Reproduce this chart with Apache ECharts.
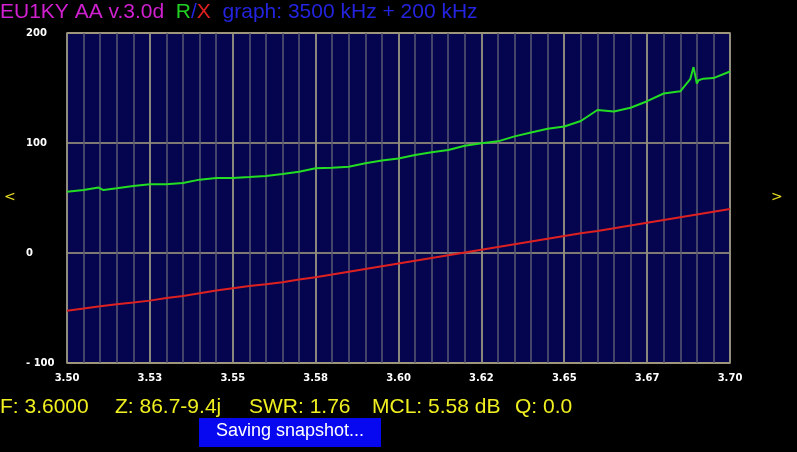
<!DOCTYPE html>
<html>
<head>
<meta charset="utf-8">
<script src="https://cdn.jsdelivr.net/npm/echarts@6/dist/echarts.min.js"></script>
<style>
html,body{margin:0;padding:0;background:#000;}
#chart{width:797px;height:452px;}
</style>
</head>
<body>
<div id="chart"></div>
<script>
// Frequency (MHz) readings
const freqs = [3.500,3.505,3.510,3.515,3.520,3.525,3.530,3.535,3.540,3.545,3.550,3.555,3.560,3.565,3.570,3.575,3.580,3.585,3.590,3.595,3.600,3.605,3.610,3.615,3.620,3.625,3.630,3.635,3.640,3.645,3.650,3.655,3.660,3.665,3.670,3.675,3.680,3.685,3.690,3.695,3.700];
// R (green)
const rValues = [55.7,57.3,58.5,58.8,60.9,62.4,62.4,63.6,66.7,68.2,68.2,69.0,70.0,71.8,73.9,77.0,77.5,78.5,81.5,84.0,86.0,89.0,91.5,93.6,97.5,99.7,101.5,106.0,109.5,113.0,115.0,120.0,130.0,128.7,132.0,138.0,145.0,147.0,154.0,159.0,165.0];
// extra R readings (spike / small bumps)
const rExtraFreqs = [3.5095,3.5110,3.6880,3.6890,3.6905,3.6920];
const rExtraValues = [59.5,57.2,158.0,169.0,157.0,158.5];
// X (red)
const xValues = [-52.4,-50.5,-48.5,-46.6,-45.0,-43.3,-41.0,-39.0,-36.5,-34.0,-32.0,-30.0,-28.5,-26.5,-24.0,-22.0,-19.5,-17.0,-14.5,-12.0,-9.5,-7.0,-4.5,-2.0,0.5,3.0,5.5,8.0,10.5,13.0,15.5,18.0,20.0,22.5,25.0,27.5,30.0,32.5,35.0,37.5,40.0];
// tick labels
const xTickLabels = ['3.50','3.53','3.55','3.58','3.60','3.62','3.65','3.67','3.70'];
const yTickLabels = {'-100':'- 100','0':'0','100':'100','200':'200'};

const rPairs = freqs.map((f,i)=>[f,rValues[i]]).concat(rExtraFreqs.map((f,i)=>[f,rExtraValues[i]])).sort((a,b)=>a[0]-b[0]);
const xPairs = freqs.map((f,i)=>[f,xValues[i]]);

const chart = echarts.init(document.getElementById('chart'), null, {renderer:'canvas'});
const labelFont = {color:'#ffffff', fontFamily:'DejaVu Sans', fontWeight:'bold', fontSize:10};
const txtFont = 'Liberation Sans';
const option = {
  backgroundColor:'#000000',
  animation:false,
  grid:{left:67,right:67,top:33,bottom:89,show:true,backgroundColor:'#05054f',borderColor:'#a8a080',borderWidth:1.5},
  xAxis:[
    {type:'value',min:3.5,max:3.7,interval:0.005,position:'bottom',
     axisLine:{show:false},axisTick:{show:false},axisLabel:{show:false},
     splitLine:{show:true,lineStyle:{color:'#5a5a74',width:1.5}}},
    {type:'value',min:3.5,max:3.7,interval:0.025,position:'bottom',
     axisLine:{show:false},axisTick:{show:false},
     axisLabel:Object.assign({show:true,margin:10,formatter:function(v){return xTickLabels[Math.round((v-3.5)/0.025)]||'';}},labelFont),
     splitLine:{show:true,lineStyle:{color:'#a09c80',width:1.5}}}
  ],
  yAxis:{type:'value',min:-100,max:200,interval:100,
    axisLine:{show:false},axisTick:{show:false},
    axisLabel:Object.assign({margin:41,align:'left',formatter:function(v){return yTickLabels[String(v)]||String(v);}},labelFont),
    splitLine:{show:true,lineStyle:{color:'#a8a080',width:1.5}}},
  series:[
    {type:'line',xAxisIndex:0,data:rPairs,showSymbol:false,lineStyle:{color:'#22dd22',width:2},z:5},
    {type:'line',xAxisIndex:0,data:xPairs,showSymbol:false,lineStyle:{color:'#dd2020',width:2},z:5}
  ],
  graphic:[
    {type:'text',left:0,top:2,style:{
      text:'{m|EU1KY AA v.3.0d}  {g|R}{b|/}{r|X}  {b|graph: 3500 kHz + 200 kHz}',
      rich:{
        m:{fill:'#d020d0',fontFamily:txtFont,fontSize:21},
        g:{fill:'#20d020',fontFamily:txtFont,fontSize:21},
        r:{fill:'#e02020',fontFamily:txtFont,fontSize:21},
        b:{fill:'#2424e0',fontFamily:txtFont,fontSize:21}
      },
      fontFamily:txtFont,fontSize:21}},
    {type:'text',left:4,top:190,style:{text:'<',fill:'#e8e020',fontFamily:'DejaVu Sans',fontSize:14}},
    {type:'text',left:771,top:190,style:{text:'>',fill:'#e8e020',fontFamily:'DejaVu Sans',fontSize:14}},
    {type:'text',left:0,top:397,style:{text:'F: 3.6000',fill:'#f0f020',fontFamily:txtFont,fontSize:21}},
    {type:'text',left:115,top:397,style:{text:'Z: 86.7-9.4j',fill:'#f0f020',fontFamily:txtFont,fontSize:21}},
    {type:'text',left:249,top:397,style:{text:'SWR: 1.76',fill:'#f0f020',fontFamily:txtFont,fontSize:21}},
    {type:'text',left:372,top:397,style:{text:'MCL: 5.58 dB',fill:'#f0f020',fontFamily:txtFont,fontSize:21}},
    {type:'text',left:515,top:397,style:{text:'Q: 0.0',fill:'#f0f020',fontFamily:txtFont,fontSize:21}},
    {type:'rect',left:199,top:418,shape:{width:182,height:29},style:{fill:'#0808f0'}},
    {type:'text',left:216,top:422,style:{text:'Saving snapshot...',fill:'#ffffff',fontFamily:txtFont,fontSize:18}}
  ]
};
chart.setOption(option);
</script>
</body>
</html>
